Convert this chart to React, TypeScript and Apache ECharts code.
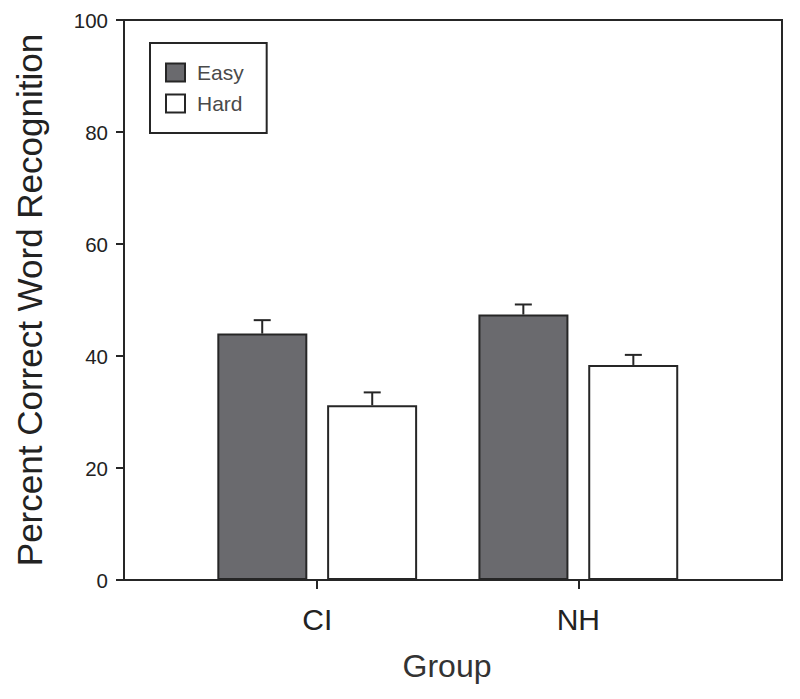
import React, { useEffect, useRef } from "react";
import * as echarts from "echarts";

const categories = ["CI", "NH"];
const categoryPositions = [1, 2];
const easyValues = [44.0, 47.4];
const easyErrors = [2.4, 1.8];
const hardValues = [31.2, 38.4];
const hardErrors = [2.3, 1.8];
const yTickValues = [0, 20, 40, 60, 80, 100];

const FONT = "'Liberation Sans', Arial, Helvetica, sans-serif";
const DARK = "#262626";

function errorSeries(name: string, means: number[], errs: number[], offset: number) {
  return {
    type: "custom",
    name,
    z: 5,
    silent: true,
    data: categoryPositions.map((p, i) => [p, means[i], errs[i]]),
    renderItem: (params: any, api: any) => {
      const base = api.coord([api.value(0), api.value(1)]);
      const top = api.coord([api.value(0), api.value(1) + api.value(2)]);
      const x = base[0] + offset;
      const half = 8.5;
      return {
        type: "group",
        children: [
          { type: "line", shape: { x1: x, y1: base[1], x2: x, y2: top[1] }, style: { stroke: DARK, lineWidth: 2 } },
          { type: "line", shape: { x1: x - half, y1: top[1], x2: x + half, y2: top[1] }, style: { stroke: DARK, lineWidth: 2 } },
        ],
      };
    },
  };
}

export default function App() {
  const ref = useRef<HTMLDivElement>(null);
  useEffect(() => {
    if (!ref.current) return;
    const chart = echarts.init(ref.current, null, { renderer: "svg" });
    chart.setOption({
      animation: false,
      backgroundColor: "#ffffff",
      textStyle: { fontFamily: FONT },
      grid: {
        left: 124,
        top: 20,
        width: 658,
        height: 560,
        show: true,
        borderColor: DARK,
        borderWidth: 2,
        backgroundColor: "transparent",
      },
      legend: {
        data: ["Easy", "Hard"],
        orient: "vertical",
        left: 150,
        top: 43,
        padding: [19, 23, 19, 15],
        itemWidth: 19,
        itemHeight: 18,
        itemGap: 10,
        icon: "rect",
        borderColor: DARK,
        borderWidth: 2,
        borderRadius: 0,
        textStyle: { fontFamily: FONT, fontSize: 21, color: "#4a4a4a", padding: [0, 0, 0, 7] },
      },
      xAxis: {
        type: "value",
        min: 0.26,
        max: 2.78,
        name: "Group",
        nameLocation: "middle",
        nameGap: 70,
        nameTextStyle: { fontFamily: FONT, fontSize: 32, color: "#333", padding: [0, 12, 0, 0] },
        splitLine: { show: false },
        axisLine: { show: true, lineStyle: { color: DARK, width: 2 } },
        axisTick: { show: true, inside: false, length: 9, customValues: categoryPositions, lineStyle: { color: DARK, width: 2 } },
        axisLabel: {
          customValues: categoryPositions,
          margin: 24,
          fontFamily: FONT,
          fontSize: 30,
          color: "#222",
          formatter: (v: number) => categories[Math.round(v) - 1] ?? "",
        },
      },
      yAxis: {
        type: "value",
        min: 0,
        max: 100,
        interval: 20,
        name: "Percent Correct Word Recognition",
        nameLocation: "middle",
        nameGap: 77,
        nameTextStyle: { fontFamily: FONT, fontSize: 35, color: "#222" },
        splitLine: { show: false },
        axisLine: { show: true, lineStyle: { color: DARK, width: 2 } },
        axisTick: { show: true, inside: false, length: 8, lineStyle: { color: DARK, width: 2 } },
        axisLabel: {
          margin: 16,
          fontFamily: FONT,
          fontSize: 20.5,
          color: "#222",
          customValues: yTickValues,
        },
      },
      series: [
        {
          type: "bar",
          name: "Easy",
          barWidth: 90,
          barGap: "22%",
          data: categoryPositions.map((p, i) => [p, easyValues[i]]),
          itemStyle: { color: "#6a6a6e", borderColor: DARK, borderWidth: 2 },
        },
        {
          type: "bar",
          name: "Hard",
          barWidth: 90,
          barGap: "22%",
          data: categoryPositions.map((p, i) => [p, hardValues[i]]),
          itemStyle: { color: "#ffffff", borderColor: DARK, borderWidth: 2 },
        },
        errorSeries("Easy error", easyValues, easyErrors, -55),
        errorSeries("Hard error", hardValues, hardErrors, 55),
      ],
    });
    return () => chart.dispose();
  }, []);
  return <div ref={ref} style={{ position: "fixed", left: 0, top: 0, width: 800, height: 699 }} />;
}
